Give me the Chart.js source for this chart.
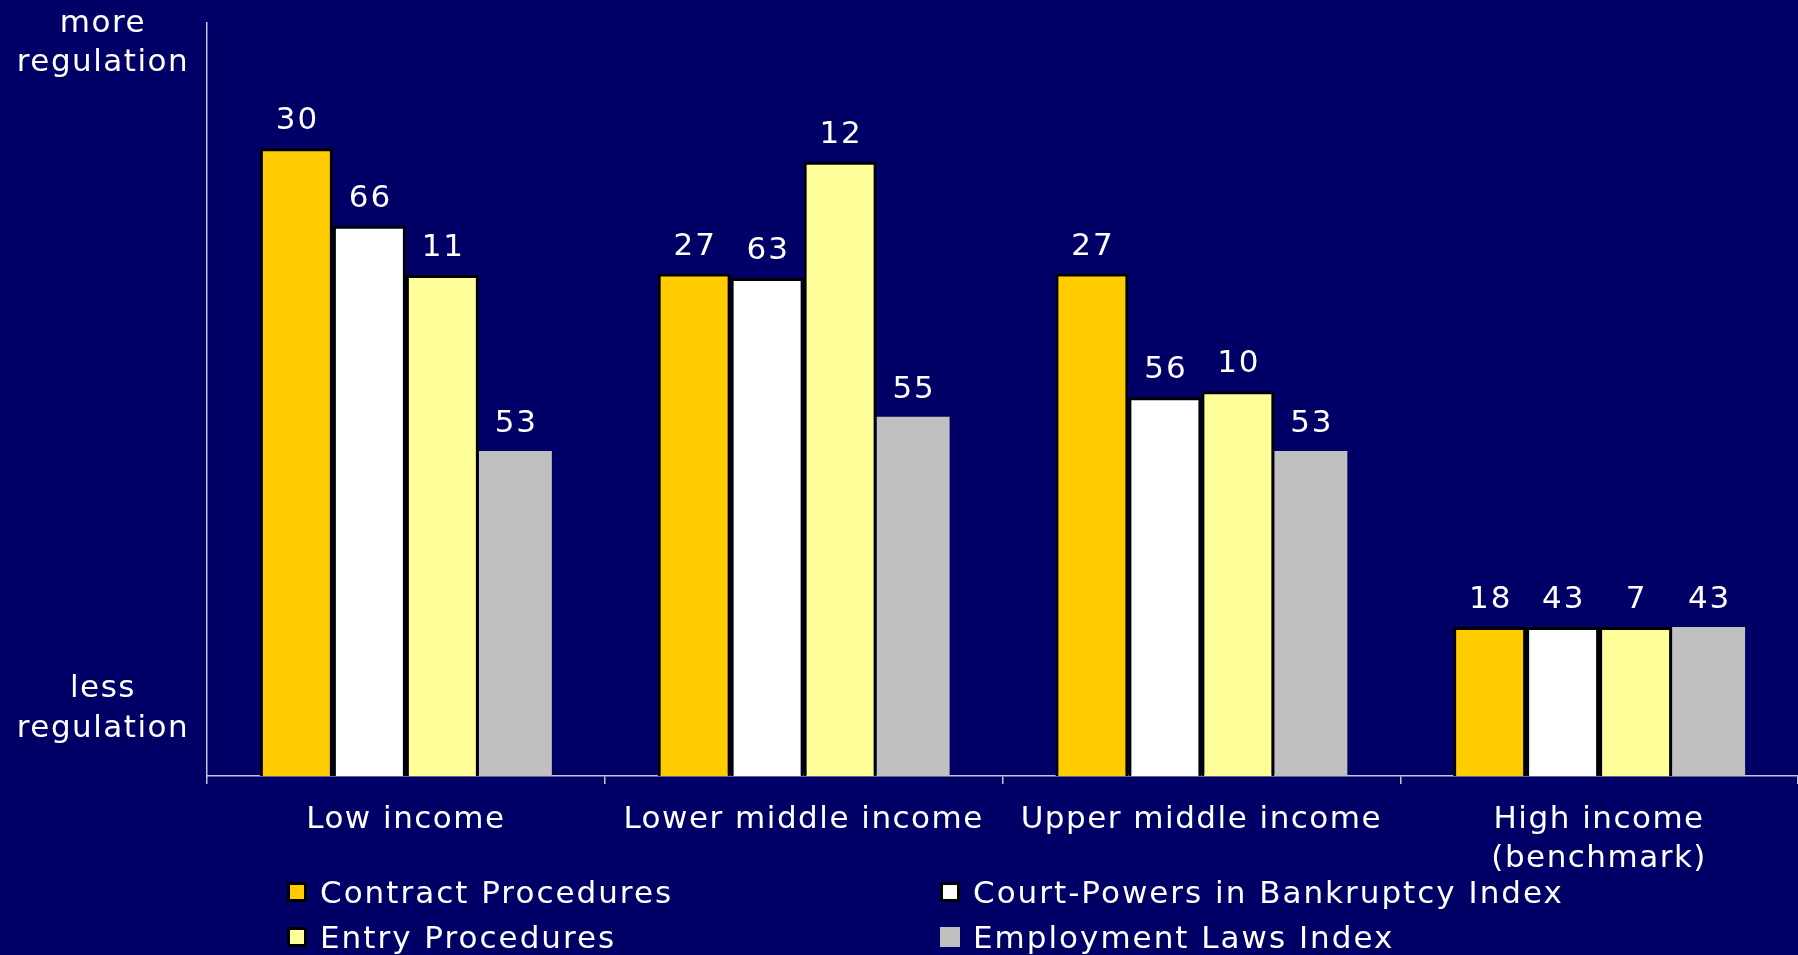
<!DOCTYPE html>
<html>
<head>
<meta charset="utf-8">
<title>Regulation by income group</title>
<script src="https://cdn.jsdelivr.net/npm/chart.js@4.4.1/dist/chart.umd.min.js"></script>
<style>
  html, body { margin: 0; padding: 0; background: #000066; }
  #wrap { position: relative; width: 1798px; height: 955px; }
</style>
</head>
<body>
<div id="wrap"><canvas id="regChart"></canvas></div>
<script>
// Categories and series
const incomeGroups = ['Low income', 'Lower middle income', 'Upper middle income', ['High income', '(benchmark)']];
const seriesNames = ['Contract Procedures', 'Court-Powers in Bankruptcy Index', 'Entry Procedures', 'Employment Laws Index'];

// Bar heights, relative to the high income benchmark (= 1)
const contractHeight = [4.21, 3.37, 3.37, 1];
const courtHeight = [3.69, 3.34, 2.54, 1];
const entryHeight = [3.36, 4.12, 2.58, 1];
const employmentHeight = [2.18, 2.41, 2.18, 1];

// Numbers printed above the bars
const contractValues = [30, 27, 27, 18];
const courtValues = [66, 63, 56, 43];
const entryValues = [11, 12, 10, 7];
const employmentValues = [53, 55, 53, 43];

// Text at the two ends of the value axis
const topAxisText = ['more', 'regulation'];
const bottomAxisText = ['less', 'regulation'];

const yMax = 5.05;

const FONT = 'DejaVu Sans';
const AXIS_COLOR = '#c4c4dc';

// letter spacing for the axis text (PowerPoint-like look)
const spacingPlugin = {
    id: 'spacing',
    beforeDraw(chart) {
        chart.ctx.letterSpacing = '1.5px';
    },
    afterDraw(chart) {
        chart.ctx.letterSpacing = '0px';
    }
};

// Value labels above each bar
const valueLabels = {
    id: 'valueLabels',
    afterDatasetsDraw(chart) {
        const ctx = chart.ctx;
        ctx.save();
        ctx.letterSpacing = '2px';
        ctx.font = '31px "' + FONT + '"';
        ctx.fillStyle = '#ffffff';
        ctx.textAlign = 'center';
        ctx.textBaseline = 'alphabetic';
        chart.data.datasets.forEach((ds, i) => {
            const meta = chart.getDatasetMeta(i);
            meta.data.forEach((bar, j) => {
                ctx.fillText(String(ds.printed[j]), bar.x + 1, bar.y - 19);
            });
        });
        ctx.restore();
    }
};

// "more regulation" / "less regulation" at the ends of the y axis
const sideLabels = {
    id: 'sideLabels',
    afterDraw(chart) {
        const ctx = chart.ctx;
        const area = chart.chartArea;
        ctx.save();
        ctx.letterSpacing = '1.5px';
        ctx.font = '31px "' + FONT + '"';
        ctx.fillStyle = '#ffffff';
        ctx.textAlign = 'center';
        ctx.textBaseline = 'alphabetic';
        const cx = 103;
        ctx.fillText(topAxisText[0], cx, area.top + 9);
        ctx.fillText(topAxisText[1], cx, area.top + 48);
        ctx.fillText(bottomAxisText[0], cx, area.bottom - 79);
        ctx.fillText(bottomAxisText[1], cx, area.bottom - 39);
        ctx.restore();
    }
};

// Two-column legend under the axis labels
const twoColLegend = {
    id: 'twoColLegend',
    afterDraw(chart) {
        const ctx = chart.ctx;
        const colX = [287, 940];
        const rowY = [882, 927];
        const box = 20;
        ctx.save();
        ctx.letterSpacing = '2px';
        ctx.font = '31px "' + FONT + '"';
        ctx.textAlign = 'left';
        ctx.textBaseline = 'alphabetic';
        chart.data.datasets.forEach((ds, i) => {
            const x = colX[i % 2];
            const y = rowY[Math.floor(i / 2)];
            ctx.fillStyle = ds.backgroundColor;
            ctx.fillRect(x, y, box, box);
            if (ds.borderWidth > 0) {
                ctx.lineWidth = 3;
                ctx.strokeStyle = '#000000';
                ctx.strokeRect(x + 1.5, y + 1.5, box - 3, box - 3);
            }
            ctx.fillStyle = '#ffffff';
            ctx.fillText(ds.label, x + 33, y + 20.5);
        });
        ctx.restore();
    }
};

function makeSet(i, heights, printed, color, border) {
    return {
        label: seriesNames[i],
        data: heights,
        printed: printed,
        backgroundColor: color,
        borderColor: '#000000',
        borderWidth: border,
        categoryPercentage: 0.734,
        barPercentage: 1.0
    };
}

document.addEventListener('DOMContentLoaded', function () {
    const ctx = document.getElementById('regChart').getContext('2d');

    new Chart(ctx, {
        type: 'bar',
        data: {
            labels: incomeGroups,
            datasets: [
                makeSet(0, contractHeight, contractValues, '#ffcc00', 3),
                makeSet(1, courtHeight, courtValues, '#ffffff', 3),
                makeSet(2, entryHeight, entryValues, '#ffff99', 3),
                makeSet(3, employmentHeight, employmentValues, '#c0c0c0', 0)
            ]
        },
        options: {
            responsive: true,
            maintainAspectRatio: false,
            animation: false,
            layout: {
                padding: { left: 207, top: 23, right: 0, bottom: 60 }
            },
            plugins: {
                legend: { display: false },
                tooltip: { enabled: false }
            },
            scales: {
                x: {
                    grid: {
                        display: true,
                        drawOnChartArea: false,
                        drawTicks: true,
                        tickLength: 8,
                        color: AXIS_COLOR,
                        lineWidth: 1.5
                    },
                    border: { display: true, color: AXIS_COLOR, width: 1.5 },
                    ticks: {
                        color: '#ffffff',
                        padding: 17,
                        maxRotation: 0,
                        autoSkip: false,
                        font: { family: FONT, size: 31, lineHeight: 1.24 }
                    }
                },
                y: {
                    min: 0,
                    max: yMax,
                    grid: { display: false, drawTicks: false },
                    border: { display: true, color: AXIS_COLOR, width: 1.5 },
                    ticks: { display: false }
                }
            }
        },
        plugins: [spacingPlugin, valueLabels, sideLabels, twoColLegend]
    });
});
</script>
</body>
</html>
